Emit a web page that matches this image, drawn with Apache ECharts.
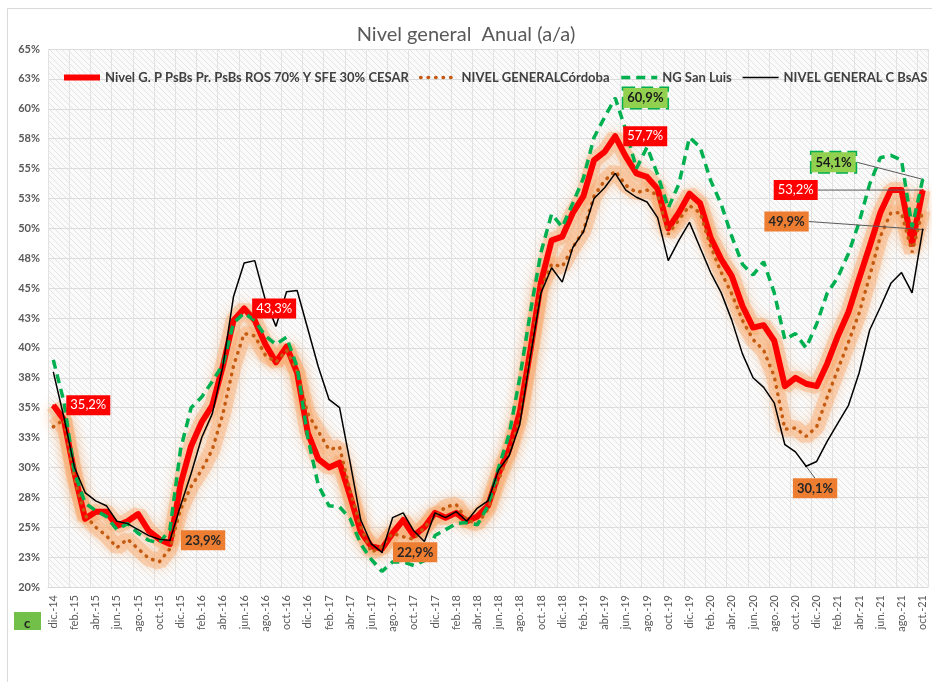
<!DOCTYPE html>
<html lang="es">
<head>
    <meta charset="utf-8">
    <title>Nivel general Anual (a/a)</title>
    <style>
        body {
            margin: 0;
            background: #fff;
        }

        #chart {
            width: 932px;
            height: 682px;
        }
    </style>
</head>
<body>
    <div id="chart"></div>
    <script src="https://cdn.jsdelivr.net/npm/echarts@6/dist/echarts.min.js"></script>
    <script>
        (function () {
            'use strict';

            // categorías: dic-14 .. oct-21
            var mesesAbr = ['ene.', 'feb.', 'mar.', 'abr.', 'may.', 'jun.', 'jul.', 'ago.', 'sep.', 'oct.', 'nov.', 'dic.'];
            var categorias = ['dic.-14'];
            for (var a = 15; a <= 21; a++) {
                for (var m = 0; m < 12; m++) {
                    if (a === 21 && m > 9) break;
                    categorias.push(mesesAbr[m] + '-' + a);
                }
            }

            // series (% a/a)
            var cesar = [
                35.2, 34.0, 29.5, 25.7, 26.3, 26.3, 25.1, 25.5, 26.1, 24.7, 24.0, 23.6,
                28.6, 31.8, 33.8, 35.2, 38.5, 42.3, 43.3, 42.3, 40.3, 38.8, 40.1, 37.9,
                32.9, 30.7, 30.0, 30.4, 27.6, 24.6, 23.4, 23.2, 24.5, 25.6, 24.3, 25.0,
                26.2, 25.8, 26.2, 25.5, 25.9, 26.8, 29.5, 31.5, 34.6, 39.8, 45.5, 49.0,
                49.3, 51.3, 52.7, 55.7, 56.4, 57.7, 56.0, 54.6, 54.3, 53.3, 50.0, 51.3,
                52.9, 52.1, 49.2, 47.4, 46.0, 43.5, 41.7, 41.9, 40.6, 36.8, 37.5, 37.0,
                36.8, 38.7, 41.0, 43.0, 45.8, 48.5, 51.3, 53.2, 53.2, 48.7, 53.2
            ];
            var cordoba = [
                33.4, 34.0, 29.0, 26.0, 25.0, 24.3, 23.3, 24.0, 23.2, 22.4, 22.1, 23.2,
                26.5, 28.4, 29.8, 31.5, 34.5, 38.5, 41.2, 41.0, 39.4, 38.8, 39.8, 38.0,
                34.5, 33.0, 31.5, 31.7, 28.0, 25.0, 22.9, 23.4, 24.5, 24.2, 24.0, 25.0,
                25.9, 26.7, 26.9, 25.6, 25.3, 26.5, 29.0, 31.2, 34.0, 39.5, 45.0, 47.0,
                46.8, 48.4, 49.8, 52.7, 54.0, 54.8, 53.6, 53.0, 53.2, 52.8, 49.5, 50.7,
                51.9, 51.3, 48.5, 46.3, 44.5, 42.3, 40.7, 39.8, 37.6, 33.2, 33.3, 32.6,
                33.4, 35.9, 38.2, 40.5, 42.9, 46.0, 49.3, 51.3, 51.3, 48.0, 51.5
            ];
            var sanLuis = [
                39.0, 35.5, 29.6, 27.0, 26.4, 25.9, 24.8, 25.3, 24.5, 23.9, 23.7, 24.8,
                31.5, 35.0, 35.9, 37.2, 38.6, 42.1, 42.9, 42.3, 41.0, 40.3, 40.9, 38.4,
                32.5, 28.5, 26.8, 26.7, 25.7, 23.6, 22.3, 21.3, 22.1, 22.1, 21.8, 22.2,
                24.3, 24.8, 25.3, 25.4, 25.2, 26.8, 30.0, 32.8, 37.5, 43.0, 48.0, 51.2,
                50.1, 52.1, 54.2, 57.6, 59.3, 60.9, 58.2, 55.0, 56.8, 54.5, 51.7, 53.7,
                57.6, 56.8, 54.0, 52.0, 49.3, 47.0, 46.1, 47.2, 44.6, 40.7, 41.2, 40.0,
                42.0, 44.6, 45.9, 47.9, 50.5, 53.7, 55.9, 56.1, 55.7, 50.1, 54.1
            ];
            var bsas = [
                38.0, 34.2, 30.0, 27.9, 27.2, 26.8, 25.5, 25.3, 24.8, 24.3, 24.0, 23.9,
                26.8, 29.5, 32.5, 34.5, 38.5, 44.3, 47.1, 47.3, 44.0, 41.8, 44.7, 44.8,
                41.6, 38.4, 35.7, 35.0, 30.4, 25.6, 23.6, 22.9, 25.8, 26.2, 24.7, 23.8,
                26.2, 25.8, 26.3, 25.5, 26.6, 27.2, 29.8, 31.0, 33.6, 39.3, 44.6, 46.7,
                45.5, 48.4, 49.7, 52.5, 53.4, 54.6, 53.2, 52.6, 52.2, 50.9, 47.3, 49.0,
                50.5, 48.4, 46.3, 44.6, 42.3, 39.5, 37.5, 36.7, 35.4, 31.9, 31.3, 30.1,
                30.5, 32.2, 33.7, 35.2, 37.9, 41.5, 43.4, 45.4, 46.3, 44.6, 49.9
            ];

            var nombres = [
                'Nivel G. P PsBs Pr. PsBs ROS 70% Y SFE 30% CESAR',
                'NIVEL GENERALCórdoba',
                'NG San Luis',
                'NIVEL GENERAL C BsAS'
            ];
            var grosores = [6, 3.5, 3.5, 1.5];

            // etiquetas destacadas (índice -> ubicación)
            var marcasCesar = {
                0: { pos: 'right', dist: 12 },
                18: { pos: 'right', dist: 7 },
                53: { pos: 'right', dist: 7 },
                82: { pos: 'left', dist: 5, dx: -99, dy: 0 }
            };
            var marcasSanLuis = {
                53: { pos: 'right', dist: 7 },
                82: { pos: 'left', dist: 5, dx: -61, dy: -17 }
            };
            var marcasBsas = {
                11: { pos: 'right', dist: 10 },
                31: { pos: 'right', dist: 10 },
                71: { pos: 'bottom', dist: 5, dx: 9, dy: 6 },
                82: { pos: 'left', dist: 5, dx: -108, dy: -8 }
            };

            var fuente = 'Lato, "Open Sans", sans-serif';

            var estiloRojo = {
                backgroundColor: '#ff0000',
                color: '#ffffff',
                padding: [4, 4, 3, 4],
                fontSize: 13,
                fontFamily: fuente
            };
            var estiloVerde = {
                backgroundColor: '#92d050',
                borderColor: '#00b050',
                borderWidth: 1.5,
                borderType: 'dashed',
                color: '#1a1a1a',
                fontWeight: 'bold',
                padding: [4, 4, 3, 4],
                fontSize: 13,
                fontFamily: fuente
            };
            var estiloNaranja = {
                backgroundColor: '#ed7d31',
                color: '#262626',
                fontWeight: 'bold',
                padding: [4, 4, 3, 4],
                fontSize: 13,
                fontFamily: fuente
            };

            function fmtPct(p) {
                return p.value.toFixed(1).replace('.', ',') + '%';
            }

            // serie invisible que sólo lleva las etiquetas, por encima de todas las líneas
            function serieEtiquetas(valores, marcas, estilo, color) {
                var datos = valores.map(function (v, i) {
                    var c = marcas[i];
                    if (!c) return v;
                    return {
                        value: v,
                        symbol: 'circle',
                        symbolSize: 2,
                        itemStyle: { color: color },
                        label: Object.assign({
                            show: true,
                            position: c.pos,
                            distance: c.dist,
                            formatter: fmtPct
                        }, estilo),
                        labelLine: {
                            show: c.dx != null,
                            lineStyle: { color: '#595959', width: 1 }
                        }
                    };
                });
                return {
                    type: 'line',
                    silent: true,
                    z: 10,
                    symbol: 'none',
                    showAllSymbol: true,
                    data: datos,
                    lineStyle: { opacity: 0 },
                    labelLayout: function (params) {
                        var c = marcas[params.dataIndex];
                        if (c && c.dx != null) return { dx: c.dx, dy: c.dy };
                        return {};
                    },
                    emphasis: { disabled: true }
                };
            }

            // trama diagonal del área de trazado
            var trama = document.createElement('canvas');
            trama.width = 6;
            trama.height = 6;
            var ctx = trama.getContext('2d');
            ctx.fillStyle = '#fbfbfb';
            ctx.fillRect(0, 0, 6, 6);
            ctx.strokeStyle = '#e3e3e3';
            ctx.lineWidth = 1;
            ctx.beginPath();
            ctx.moveTo(-1, -1);
            ctx.lineTo(7, 7);
            ctx.moveTo(-1, 5);
            ctx.lineTo(1, 7);
            ctx.moveTo(5, -1);
            ctx.lineTo(7, 1);
            ctx.stroke();

            var brillo = {
                type: 'line',
                silent: true,
                symbol: 'none',
                z: 1,
                lineStyle: {
                    width: 16,
                    color: 'rgba(250, 170, 110, 0.42)',
                    shadowBlur: 12,
                    shadowColor: 'rgba(247, 150, 70, 0.75)'
                },
                emphasis: { disabled: true }
            };

            var opt = {
                animation: false,
                backgroundColor: '#ffffff',
                title: {
                    text: 'Nivel general  Anual (a/a)',
                    left: 'center',
                    top: 20,
                    textStyle: {
                        fontFamily: fuente,
                        fontSize: 20,
                        fontWeight: 'normal',
                        color: '#595959'
                    }
                },
                legend: {
                    data: nombres.map(function (n, i) {
                        return { name: n, lineStyle: { width: grosores[i] } };
                    }),
                    left: 61,
                    top: 71,
                    width: 900,
                    padding: 0,
                    itemWidth: 36,
                    itemHeight: 14,
                    itemGap: 10,
                    itemStyle: { opacity: 0 },
                    textStyle: {
                        fontFamily: fuente,
                        fontSize: 13,
                        fontWeight: 'bold',
                        color: '#404040'
                    }
                },
                grid: {
                    show: true,
                    left: 48,
                    right: 4,
                    top: 49,
                    bottom: 95,
                    borderWidth: 0,
                    backgroundColor: { image: trama, repeat: 'repeat' }
                },
                xAxis: {
                    type: 'category',
                    data: categorias,
                    boundaryGap: true,
                    axisLine: { lineStyle: { color: '#d9d9d9' } },
                    axisTick: { show: false },
                    axisLabel: {
                        interval: 1,
                        rotate: 90,
                        fontFamily: fuente,
                        fontSize: 11,
                        color: '#595959',
                        margin: 8
                    },
                    splitLine: {
                        show: true,
                        interval: 1,
                        lineStyle: { color: '#e2e2e2' }
                    }
                },
                yAxis: {
                    type: 'value',
                    min: 20,
                    max: 65,
                    interval: 2.5,
                    axisLine: { show: false },
                    axisTick: { show: false },
                    axisLabel: {
                        fontFamily: fuente,
                        fontSize: 11,
                        fontWeight: 'bold',
                        color: '#595959',
                        margin: 8,
                        formatter: function (v) { return Math.round(v) + '%'; }
                    },
                    splitLine: { lineStyle: { color: '#dcdcdc' } }
                },
                graphic: [
                    {
                        type: 'rect',
                        silent: true,
                        shape: { x: 7.5, y: 8.5, width: 940, height: 700 },
                        style: { fill: 'none', stroke: '#d9d9d9', lineWidth: 1 }
                    },
                    {
                        type: 'rect',
                        silent: true,
                        shape: { x: 14, y: 612, width: 27, height: 18 },
                        style: { fill: '#72c04a' }
                    },
                    {
                        type: 'text',
                        silent: true,
                        x: 24,
                        y: 617,
                        style: { text: 'c', fill: '#222', font: 'bold 13px Lato' }
                    }
                ],
                series: [
                    Object.assign({ name: '_brilloCesar', data: cesar }, brillo),
                    Object.assign({ name: '_brilloCordoba', data: cordoba }, brillo),
                    {
                        name: nombres[0],
                        type: 'line',
                        z: 3,
                        symbol: 'none',
                        data: cesar,
                        lineStyle: { color: '#ff0000', width: grosores[0], join: 'round' },
                        itemStyle: { color: '#ff0000' },
                        emphasis: { disabled: true }
                    },
                    {
                        name: nombres[1],
                        type: 'line',
                        z: 4,
                        symbol: 'none',
                        data: cordoba,
                        lineStyle: { color: '#c55a11', width: grosores[1], type: [0.5, 7], cap: 'round' },
                        itemStyle: { color: '#c55a11' },
                        emphasis: { disabled: true }
                    },
                    {
                        name: nombres[2],
                        type: 'line',
                        z: 5,
                        symbol: 'none',
                        data: sanLuis,
                        lineStyle: { color: '#00b050', width: grosores[2], type: [9, 6] },
                        itemStyle: { color: '#00b050' },
                        emphasis: { disabled: true }
                    },
                    {
                        name: nombres[3],
                        type: 'line',
                        z: 6,
                        symbol: 'none',
                        data: bsas,
                        lineStyle: { color: '#000000', width: grosores[3] },
                        itemStyle: { color: '#000000' },
                        emphasis: { disabled: true }
                    },
                    serieEtiquetas(cesar, marcasCesar, estiloRojo, '#ff0000'),
                    serieEtiquetas(sanLuis, marcasSanLuis, estiloVerde, '#00b050'),
                    serieEtiquetas(bsas, marcasBsas, estiloNaranja, '#000000')
                ]
            };

            var chart = echarts.init(document.getElementById('chart'));
            chart.setOption(opt);
        }());
    </script>
</body>
</html>
